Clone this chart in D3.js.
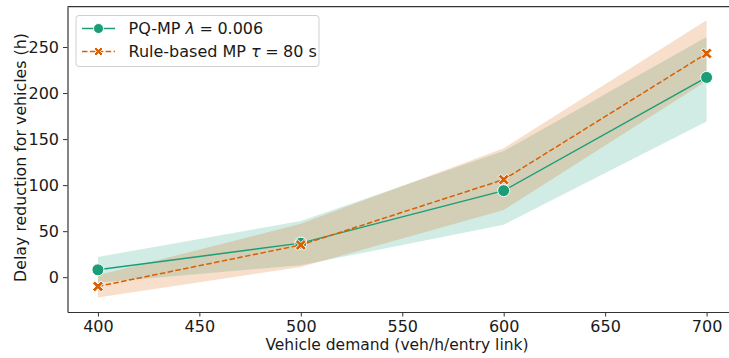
<!DOCTYPE html>
<html>
<head>
<meta charset="utf-8">
<script src="https://cdn.jsdelivr.net/npm/d3@7"></script>
<style>
  body { margin: 0; background: #fff; }
  text { font-family: "DejaVu Sans", sans-serif; fill: #1a1a1a; }
</style>
</head>
<body>
<div id="chart"></div>
<script>
// Data
const demand = [400, 500, 600, 700];
const pqMean = [8, 37, 94, 217];
const pqLow = [-6, 13, 57, 169];
const pqHigh = [22, 61, 137, 261];
const ruleMean = [-10, 35, 106, 243];
const ruleLow = [-22, 11, 73, 213];
const ruleHigh = [2, 58, 140, 279];
const xTicks = [400, 450, 500, 550, 600, 650, 700];
const yTicks = [0, 50, 100, 150, 200, 250];

function main() {
    const width = 729, height = 358;
    const margin = {left: 67.5, top: 6.7, right: -8, bottom: 46};
    const plotW = width - margin.left - margin.right;
    const plotH = height - margin.top - margin.bottom;

    const svg = d3.select("#chart").append("svg")
        .attr("width", width)
        .attr("height", height);

    const g = svg.append("g")
        .attr("transform", `translate(${margin.left},${margin.top})`);

    const x = d3.scaleLinear().domain([385, 715]).range([0, plotW]);
    const y = d3.scaleLinear().domain([-37.8, 293.8]).range([plotH, 0]);

    const series = [
        {mean: pqMean, low: pqLow, high: pqHigh, color: "#1b9e77", dash: null, marker: "circle"},
        {mean: ruleMean, low: ruleLow, high: ruleHigh, color: "#d95f02", dash: "5.5,2.4", marker: "x"}
    ];

    // Confidence bands
    series.forEach(s => {
        const area = d3.area()
            .x((d, i) => x(demand[i]))
            .y0((d, i) => y(s.low[i]))
            .y1((d, i) => y(s.high[i]));
        g.append("path")
            .datum(demand)
            .attr("d", area)
            .attr("fill", s.color)
            .attr("fill-opacity", 0.2);
    });

    // X marker shape like matplotlib "X"
    const xPath = function(size) {
        const a = size / 2, t = size * 0.22;
        return `M${-a},${-a + t}L${-a + t},${-a}L0,${-t}L${a - t},${-a}L${a},${-a + t}L${t},0` +
               `L${a},${a - t}L${a - t},${a}L0,${t}L${-a + t},${a}L${-a},${a - t}L${-t},0Z`;
    };

    // Lines and markers
    series.forEach(s => {
        const line = d3.line()
            .x((d, i) => x(demand[i]))
            .y(d => y(d));
        g.append("path")
            .datum(s.mean)
            .attr("d", line)
            .attr("fill", "none")
            .attr("stroke", s.color)
            .attr("stroke-width", 1.5)
            .attr("stroke-dasharray", s.dash);

        const pts = g.append("g").selectAll("g")
            .data(s.mean)
            .join("g")
            .attr("transform", (d, i) => `translate(${x(demand[i])},${y(d)})`);
        if (s.marker === "circle") {
            pts.append("circle").attr("r", 6)
                .attr("fill", s.color).attr("stroke", "#fff").attr("stroke-width", 1);
        } else {
            pts.append("path").attr("d", xPath(11))
                .attr("fill", s.color).attr("stroke", "#fff").attr("stroke-width", 1);
        }
    });

    // Axes
    const xAxis = g.append("g")
        .attr("transform", `translate(0,${plotH})`)
        .call(d3.axisBottom(x).tickValues(xTicks).tickSize(4.5).tickSizeOuter(0).tickPadding(4));
    const yAxis = g.append("g")
        .call(d3.axisLeft(y).tickValues(yTicks).tickSize(4.5).tickSizeOuter(0).tickPadding(4));
    [xAxis, yAxis].forEach(a => {
        a.select(".domain").attr("stroke", "#333").attr("stroke-width", 1.2);
        a.selectAll(".tick line").attr("stroke", "#333").attr("stroke-width", 1);
        a.selectAll(".tick text").style("font-size", "16px").style("font-family", "DejaVu Sans").attr("fill", "#1a1a1a");
    });
    // top spine
    g.append("line")
        .attr("x1", 0).attr("x2", plotW).attr("y1", 0).attr("y2", 0)
        .attr("stroke", "#333").attr("stroke-width", 1.2);

    // Axis labels
    svg.append("text")
        .attr("x", 397).attr("y", 350)
        .attr("text-anchor", "middle")
        .style("font-size", "15.5px")
        .text("Vehicle demand (veh/h/entry link)");
    svg.append("text")
        .attr("transform", `translate(26,${margin.top + y(130)}) rotate(-90)`)
        .attr("text-anchor", "middle")
        .style("font-size", "15.8px")
        .text("Delay reduction for vehicles (h)");

    // Legend
    const lg = svg.append("g");
    lg.append("rect")
        .attr("x", 76).attr("y", 15.5).attr("width", 243).attr("height", 51)
        .attr("rx", 3).attr("fill", "#fff").attr("fill-opacity", 0.8)
        .attr("stroke", "#d0d0d0").attr("stroke-width", 1);
    const legendItems = [
        {s: series[0], y: 28.5, label: ["PQ-MP ", "λ", "=", "0.006"]},
        {s: series[1], y: 51.5, label: ["Rule-based MP ", "τ", "=", "80 s"]}
    ];
    legendItems.forEach(it => {
        lg.append("line")
            .attr("x1", 82).attr("x2", 115).attr("y1", it.y).attr("y2", it.y)
            .attr("stroke", it.s.color).attr("stroke-width", 1.5)
            .attr("stroke-dasharray", it.s.dash);
        if (it.s.marker === "circle") {
            lg.append("circle").attr("cx", 98.5).attr("cy", it.y).attr("r", 5)
                .attr("fill", it.s.color).attr("stroke", "#fff").attr("stroke-width", 1);
        } else {
            lg.append("path").attr("d", xPath(9))
                .attr("transform", `translate(98.5,${it.y})`)
                .attr("fill", it.s.color).attr("stroke", "#fff").attr("stroke-width", 1);
        }
        const t = lg.append("text")
            .attr("x", 128.5).attr("y", it.y + 5.5)
            .style("font-size", "16px");
        t.append("tspan").text(it.label[0]);
        t.append("tspan").style("font-style", "italic").text(it.label[1]);
        t.append("tspan").attr("dx", 4.5).text(it.label[2]);
        t.append("tspan").attr("dx", 4.5).text(it.label[3]);
    });
}

main();
</script>
</body>
</html>
